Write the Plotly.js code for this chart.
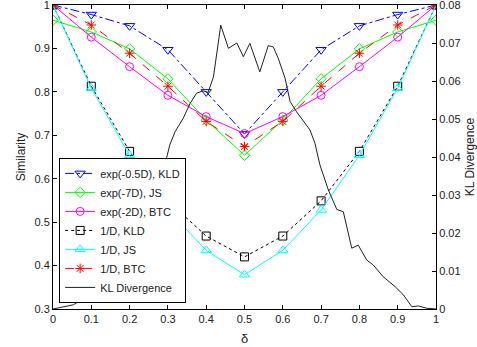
<!DOCTYPE html>
<html>
<head>
<meta charset="utf-8">
<script src="https://cdn.plot.ly/plotly-3.0.1.min.js"></script>
<style>html,body{margin:0;padding:0;background:#fff;}#chart{width:477px;height:347px;}</style>
</head>
<body>
<div id="chart"></div>
<script>
const delta = [0, 0.1, 0.2, 0.3, 0.4, 0.5, 0.6, 0.7, 0.8, 0.9, 1];
const expKLD = [1, 0.978, 0.952, 0.897, 0.8, 0.703, 0.8, 0.897, 0.952, 0.978, 1];
const expJS  = [0.965, 0.938, 0.899, 0.83, 0.735, 0.654, 0.735, 0.83, 0.899, 0.938, 0.965];
const expBTC = [1, 0.926, 0.858, 0.792, 0.743, 0.704, 0.743, 0.792, 0.858, 0.926, 1];
const invKLD = [1, 0.813, 0.663, 0.549, 0.468, 0.42, 0.468, 0.549, 0.663, 0.813, 1];
const invJS  = [1, 0.808, 0.654, 0.528, 0.435, 0.379, 0.435, 0.528, 0.654, 0.808, 1];
const invBTC = [1, 0.954, 0.889, 0.813, 0.732, 0.674, 0.732, 0.813, 0.889, 0.954, 1];

const klX = [0, 0.053, 0.1, 0.15, 0.2, 0.25, 0.279, 0.292, 0.305, 0.319, 0.34, 0.358, 0.375, 0.392, 0.405, 0.419, 0.438, 0.458, 0.48, 0.497, 0.514, 0.54, 0.562, 0.575, 0.588, 0.606, 0.619, 0.636, 0.654, 0.671, 0.684, 0.697, 0.719, 0.741, 0.758, 0.78, 0.797, 0.819, 0.836, 0.862, 0.893, 0.915, 0.937, 0.954, 0.976, 1];
const klY = [0, 0.0011, 0.004, 0.009, 0.016, 0.026, 0.0326, 0.0379, 0.0432, 0.0467, 0.0502, 0.0541, 0.0568, 0.0574, 0.057, 0.0611, 0.0747, 0.0686, 0.07, 0.0664, 0.0699, 0.0624, 0.0693, 0.069, 0.066, 0.0607, 0.0546, 0.0519, 0.0493, 0.0471, 0.0436, 0.0379, 0.0313, 0.0262, 0.0256, 0.016, 0.0168, 0.0129, 0.0116, 0.0085, 0.0059, 0.0037, 0.0006, 0.0008, 0.0002, 0];

const xTicks = [0, 0.1, 0.2, 0.3, 0.4, 0.5, 0.6, 0.7, 0.8, 0.9, 1];
const xTickText = ['0', '0.1', '0.2', '0.3', '0.4', '0.5', '0.6', '0.7', '0.8', '0.9', '1'];
const yTicks = [0.3, 0.4, 0.5, 0.6, 0.7, 0.8, 0.9, 1];
const yTickText = ['0.3', '0.4', '0.5', '0.6', '0.7', '0.8', '0.9', '1'];
const y2Ticks = [0, 0.01, 0.02, 0.03, 0.04, 0.05, 0.06, 0.07, 0.08];
const y2TickText = ['0', '0.01', '0.02', '0.03', '0.04', '0.05', '0.06', '0.07', '0.08'];

const names = ['exp(-0.5D), KLD', 'exp(-7D), JS', 'exp(-2D), BTC', '1/D, KLD', '1/D, JS', '1/D, BTC', 'KL Divergence'];

function sim(y, name, color, dash, symbol, size) {
  return {x: delta, y: y, name: name, type: 'scatter', mode: 'lines+markers',
    line: {color: color, width: 1, dash: dash},
    marker: {symbol: symbol, size: size, color: color, line: {color: color, width: 1}}};
}

const traces = [
  sim(expKLD, names[0], '#0000ff', 'dashdot', 'triangle-down-open', 9),
  sim(expJS, names[1], '#00ff00', 'solid', 'diamond-open', 8),
  sim(expBTC, names[2], '#ff00ff', 'solid', 'circle-open', 8),
  sim(invKLD, names[3], '#000000', 'dot', 'square-open', 8),
  sim(invJS, names[4], '#00ffff', 'solid', 'triangle-up-open', 9),
  sim(invBTC, names[5], '#ff0000', 'dash', 'asterisk-open', 8),
  {x: klX, y: klY, name: names[6], type: 'scatter', mode: 'lines', yaxis: 'y2',
   line: {color: '#222222', width: 1}}
];

const fam = 'Liberation Sans, Arial, sans-serif';
const axisCommon = {showgrid: false, zeroline: false, showline: true, linecolor: '#000', linewidth: 1,
  ticks: 'inside', ticklen: 4, tickcolor: '#000', tickmode: 'array', ticklabeloverflow: 'allow'};
const layout = {
  width: 477, height: 347,
  margin: {l: 53, r: 41, t: 5, b: 38},
  paper_bgcolor: '#fff', plot_bgcolor: '#fff',
  font: {family: fam, size: 11, color: '#222'},
  showlegend: true,
  xaxis: Object.assign({}, axisCommon, {range: [0, 1], tickvals: xTicks, ticktext: xTickText, mirror: 'ticks',
    title: {text: 'δ', font: {family: fam, size: 13, color: '#222'}, standoff: 9}}),
  yaxis: Object.assign({}, axisCommon, {range: [0.3, 1], tickvals: yTicks, ticktext: yTickText,
    title: {text: 'Similarity', font: {family: fam, size: 12, color: '#222'}, standoff: 6}}),
  yaxis2: Object.assign({}, axisCommon, {range: [0, 0.08], tickvals: y2Ticks, ticktext: y2TickText, overlaying: 'y', side: 'right',
    title: {text: 'KL Divergence', font: {family: fam, size: 12, color: '#222'}, standoff: 6}}),
  legend: {x: 0.016, y: 0.02, xanchor: 'left', yanchor: 'bottom', bgcolor: '#fff', bordercolor: '#000', borderwidth: 1,
    font: {family: fam, size: 11, color: '#222'}, tracegroupgap: 0, itemwidth: 30}
};

Plotly.newPlot('chart', traces, layout, {displayModeBar: false, staticPlot: true});
</script>
</body>
</html>
